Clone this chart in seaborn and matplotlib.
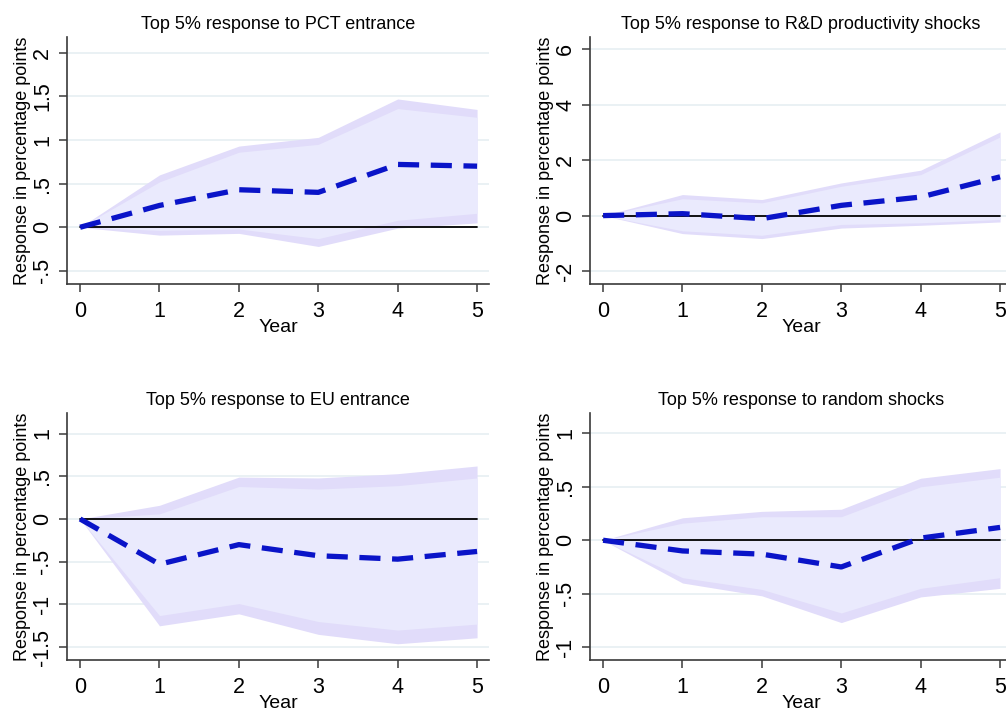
import matplotlib
matplotlib.use("Agg")
import matplotlib.pyplot as plt
import seaborn as sns
import numpy as np
import pandas as pd

sns.set_theme(style="white")
plt.rcParams['font.family'] = ['Liberation Sans Narrow', 'Liberation Sans', 'DejaVu Sans']
plt.rcParams['text.color'] = 'black'
plt.rcParams['axes.labelcolor'] = 'black'
plt.rcParams['xtick.color'] = 'black'
plt.rcParams['ytick.color'] = 'black'

years = [0, 1, 2, 3, 4, 5]

titles = [
    "Top 5% response to PCT entrance",
    "Top 5% response to R&D productivity shocks",
    "Top 5% response to EU entrance",
    "Top 5% response to random shocks",
]

# Panel 1: PCT entrance
pct_mean = [0.0, 0.25, 0.43, 0.40, 0.72, 0.70]
pct_outer_hi = [0.0, 0.60, 0.93, 1.03, 1.47, 1.35]
pct_inner_hi = [0.0, 0.52, 0.86, 0.95, 1.36, 1.26]
pct_inner_lo = [0.0, -0.035, -0.02, -0.13, 0.08, 0.16]
pct_outer_lo = [0.0, -0.09, -0.07, -0.22, -0.01, 0.05]

# Panel 2: R&D productivity shocks
rd_mean = [0.0, 0.07, -0.11, 0.37, 0.67, 1.40]
rd_outer_hi = [0.0, 0.76, 0.58, 1.18, 1.64, 3.02]
rd_inner_hi = [0.0, 0.61, 0.46, 1.06, 1.48, 2.84]
rd_inner_lo = [0.0, -0.55, -0.71, -0.32, -0.26, -0.14]
rd_outer_lo = [0.0, -0.65, -0.83, -0.45, -0.35, -0.23]

# Panel 3: EU entrance
eu_mean = [0.0, -0.53, -0.30, -0.43, -0.47, -0.38]
eu_outer_hi = [0.0, 0.16, 0.49, 0.48, 0.53, 0.62]
eu_inner_hi = [0.0, 0.06, 0.38, 0.35, 0.39, 0.48]
eu_inner_lo = [0.0, -1.13, -0.99, -1.20, -1.30, -1.23]
eu_outer_lo = [0.0, -1.25, -1.11, -1.35, -1.46, -1.39]

# Panel 4: random shocks
rs_mean = [0.0, -0.10, -0.13, -0.25, 0.02, 0.12]
rs_outer_hi = [0.0, 0.21, 0.27, 0.29, 0.58, 0.67]
rs_inner_hi = [0.0, 0.16, 0.22, 0.22, 0.50, 0.59]
rs_inner_lo = [0.0, -0.35, -0.46, -0.68, -0.45, -0.35]
rs_outer_lo = [0.0, -0.40, -0.52, -0.77, -0.53, -0.45]

yticks = [
    [-0.5, 0, 0.5, 1, 1.5, 2],
    [-2, 0, 2, 4, 6],
    [-1.5, -1, -0.5, 0, 0.5, 1],
    [-1, -0.5, 0, 0.5, 1],
]
yticklabels = [
    ["-.5", "0", ".5", "1", "1.5", "2"],
    ["-2", "0", "2", "4", "6"],
    ["-1.5", "-1", "-.5", "0", ".5", "1"],
    ["-1", "-.5", "0", ".5", "1"],
]
ylims = [(-0.65, 2.18), (-2.47, 6.45), (-1.65, 1.24), (-1.12, 1.19)]

panels = [
    (pct_mean, pct_outer_hi, pct_inner_hi, pct_inner_lo, pct_outer_lo),
    (rd_mean, rd_outer_hi, rd_inner_hi, rd_inner_lo, rd_outer_lo),
    (eu_mean, eu_outer_hi, eu_inner_hi, eu_inner_lo, eu_outer_lo),
    (rs_mean, rs_outer_hi, rs_inner_hi, rs_inner_lo, rs_outer_lo),
]

W, H = 1006, 712
fig = plt.figure(figsize=(W / 100, H / 100), dpi=100)

# axes boxes in pixels: left, right, top, bottom
boxes = [
    (67, 489, 37, 284),
    (590, 1012, 37, 284),
    (67, 489, 413, 660),
    (590, 1012, 413, 660),
]

outer_col = "#E1DCFA"
inner_col = "#EAEAFD"
line_col = "#0A14C8"
grid_col = "#E6EFF2"
spine_col = "#3a3a3a"

for i, (box, data) in enumerate(zip(boxes, panels)):
    l, r, t, b = box
    ax = fig.add_axes([l / W, 1 - b / H, (r - l) / W, (b - t) / H])
    mean, ohi, ihi, ilo, olo = data
    df = pd.DataFrame({"Year": years, "mean": mean})
    ax.set_ylim(*ylims[i])
    ax.set_xlim(-0.165, 5.15)
    for yv in yticks[i]:
        ax.axhline(yv, color=grid_col, lw=1.2, zorder=0)
    ax.fill_between(years, olo, ohi, color=outer_col, lw=0, zorder=1)
    ax.fill_between(years, ilo, ihi, color=inner_col, lw=0, zorder=2)
    ax.axhline(0, xmin=(0 + 0.165) / 5.315, xmax=(5 + 0.165) / 5.315, color="black", lw=1.3, zorder=3)
    sns.lineplot(data=df, x="Year", y="mean", ax=ax, color=line_col, lw=3.8,
                 zorder=4, legend=False)
    ax.lines[-1].set_dashes([4.0, 2.2])
    ax.set_xticks(years)
    ax.set_xticklabels([str(y) for y in years], fontsize=15.5)
    ax.set_yticks(yticks[i])
    ax.set_yticklabels(yticklabels[i], fontsize=15.5, rotation=90, va="center")
    ax.tick_params(axis="x", direction="out", length=6, width=1.1, color=spine_col,
                   pad=6, bottom=True)
    ax.tick_params(axis="y", direction="out", length=6, width=1.1, color=spine_col,
                   pad=4, left=True)
    ax.set_xlabel("Year", fontsize=14, labelpad=-2)
    ax.set_ylabel("Response in percentage points", fontsize=13, labelpad=1)
    ax.set_title(titles[i], fontsize=13, pad=6)
    for s in ["top", "right"]:
        ax.spines[s].set_visible(False)
    for s in ["left", "bottom"]:
        ax.spines[s].set_color(spine_col)
        ax.spines[s].set_linewidth(1.2)
    ax.grid(False)

fig.savefig("out.png", dpi=100)
